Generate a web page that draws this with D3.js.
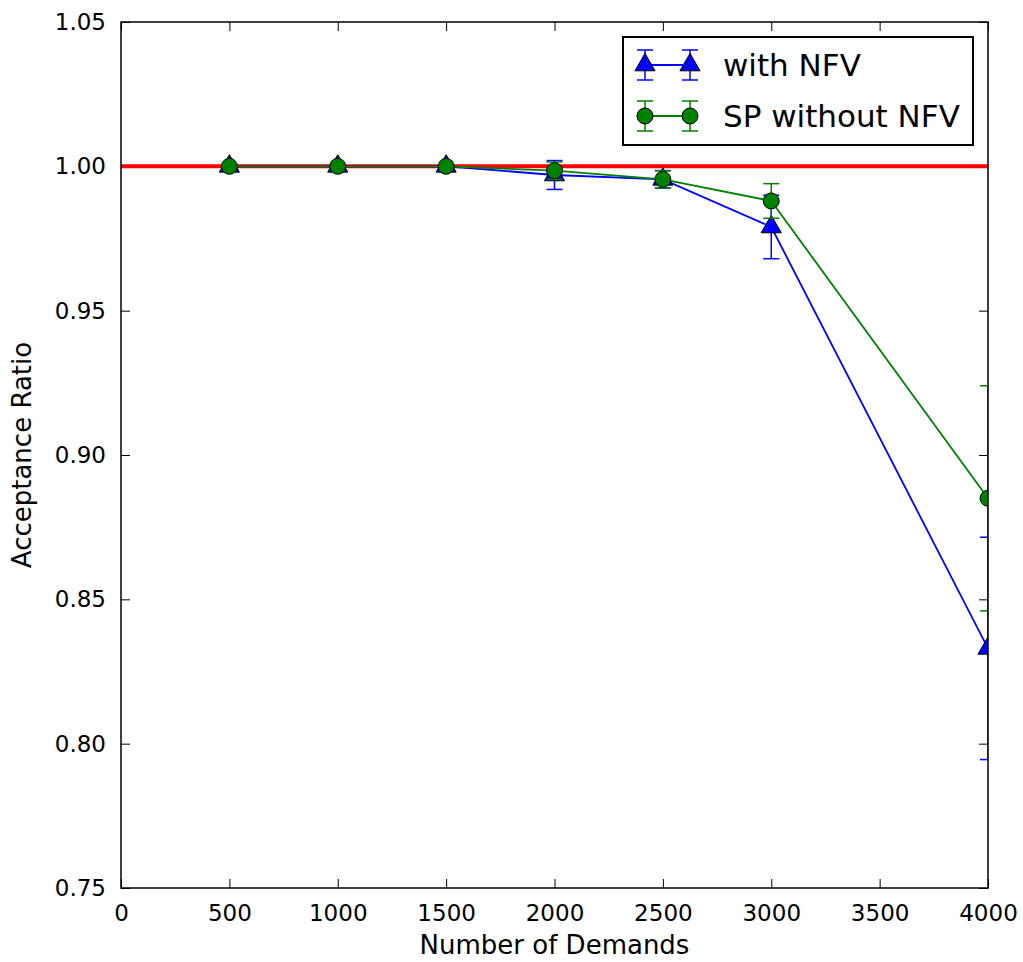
<!DOCTYPE html>
<html>
<head>
<meta charset="utf-8">
<script src="https://cdn.jsdelivr.net/npm/d3@7"></script>
<style>
  body { margin: 0; background: #fff; }
  text { font-family: "DejaVu Sans", sans-serif; fill: #000; }
</style>
</head>
<body>
<div id="chart"></div>
<script>
// demands on x axis
var demands = [500, 1000, 1500, 2000, 2500, 3000, 4000];
// with NFV (blue triangles)
var nfvMean = [1.000, 1.000, 1.000, 0.997, 0.9955, 0.979, 0.833];
var nfvErr  = [0.0002, 0.0002, 0.0002, 0.005, 0.003, 0.011, 0.0385];
// SP without NFV (green circles)
var spMean = [1.000, 1.000, 1.000, 0.9985, 0.9955, 0.988, 0.885];
var spErr  = [0.0005, 0.0005, 0.0005, 0.003, 0.003, 0.006, 0.039];
var xTicks = [0, 500, 1000, 1500, 2000, 2500, 3000, 3500, 4000];
var yTicks = [0.75, 0.80, 0.85, 0.90, 0.95, 1.00, 1.05];
var refLine = 1.0;

function draw()
{
  var W = 1023, H = 962;
  var pL = 121, pR = 988, pT = 22, pB = 888;
  var tickLen = 9;
  var capW = 8;

  var svg = d3.select("#chart").append("svg")
      .attr("width", W).attr("height", H);

  var x = d3.scaleLinear().domain([0, 4000]).range([pL, pR]);
  var y = d3.scaleLinear().domain([0.75, 1.05]).range([pB, pT]);

  svg.append("clipPath").attr("id", "plotClip")
    .append("rect").attr("x", pL).attr("y", pT)
    .attr("width", pR - pL).attr("height", pB - pT);

  // axes, matplotlib classic: ticks pointing inward on all sides
  var gx = svg.append("g").attr("transform", "translate(0," + pB + ")")
    .call(d3.axisBottom(x).tickValues(xTicks).tickSize(-tickLen).tickPadding(tickLen + 8).tickFormat(d3.format("d")));
  var gxTop = svg.append("g").attr("transform", "translate(0," + pT + ")")
    .call(d3.axisTop(x).tickValues(xTicks).tickSize(-tickLen).tickFormat(""));
  var gy = svg.append("g").attr("transform", "translate(" + pL + ",0)")
    .call(d3.axisLeft(y).tickValues(yTicks).tickSize(-tickLen).tickPadding(tickLen + 6).tickFormat(d3.format(".2f")));
  var gyR = svg.append("g").attr("transform", "translate(" + pR + ",0)")
    .call(d3.axisRight(y).tickValues(yTicks).tickSize(-tickLen).tickFormat(""));

  [gx, gxTop, gy, gyR].forEach(function(g) {
    g.select(".domain").remove();
    g.selectAll(".tick line").attr("stroke", "#000").attr("stroke-width", 1);
    g.selectAll("text").attr("font-size", 23).attr("font-family", "DejaVu Sans").attr("fill", "#000");
  });

  var plot = svg.append("g").attr("clip-path", "url(#plotClip)");

  // red reference line at 1.0
  plot.append("line")
    .attr("x1", pL).attr("x2", pR)
    .attr("y1", y(refLine)).attr("y2", y(refLine))
    .attr("stroke", "#ff0000").attr("stroke-width", 4);

  function series(mean, err, color, marker) {
    var pts = demands.map(function(d, i) { return {x: d, y: mean[i], e: err[i]}; });
    var g = plot.append("g");
    // error bars
    var eb = g.selectAll(".eb").data(pts).enter().append("g").attr("stroke", color).attr("stroke-width", 1.5);
    eb.append("line")
      .attr("x1", function(d) { return x(d.x); }).attr("x2", function(d) { return x(d.x); })
      .attr("y1", function(d) { return y(d.y - d.e); }).attr("y2", function(d) { return y(d.y + d.e); });
    eb.append("line")
      .attr("x1", function(d) { return x(d.x) - capW; }).attr("x2", function(d) { return x(d.x) + capW; })
      .attr("y1", function(d) { return y(d.y - d.e); }).attr("y2", function(d) { return y(d.y - d.e); });
    eb.append("line")
      .attr("x1", function(d) { return x(d.x) - capW; }).attr("x2", function(d) { return x(d.x) + capW; })
      .attr("y1", function(d) { return y(d.y + d.e); }).attr("y2", function(d) { return y(d.y + d.e); });
    // line
    g.append("path").datum(pts)
      .attr("fill", "none").attr("stroke", color).attr("stroke-width", 1.8)
      .attr("d", d3.line().x(function(d) { return x(d.x); }).y(function(d) { return y(d.y); }));
    // markers
    g.selectAll(".mk").data(pts).enter().append("path")
      .attr("transform", function(d) { return "translate(" + x(d.x) + "," + y(d.y) + ")"; })
      .attr("d", marker)
      .attr("fill", color).attr("stroke", "#000").attr("stroke-width", 1);
  }

  var triangle = d3.symbol().type(d3.symbolTriangle).size(175)();
  var circle = d3.symbol().type(d3.symbolCircle).size(200)();

  series(nfvMean, nfvErr, "#0000ff", triangle);
  series(spMean, spErr, "#008000", circle);

  // frame
  svg.append("rect")
    .attr("x", pL).attr("y", pT).attr("width", pR - pL).attr("height", pB - pT)
    .attr("fill", "none").attr("stroke", "#000").attr("stroke-width", 1.5);

  // axis labels
  svg.append("text")
    .attr("x", (pL + pR) / 2).attr("y", 954)
    .attr("text-anchor", "middle").attr("font-size", 26)
    .text("Number of Demands");
  svg.append("text")
    .attr("transform", "translate(31," + ((pT + pB) / 2) + ") rotate(-90)")
    .attr("text-anchor", "middle").attr("font-size", 26)
    .text("Acceptance Ratio");

  // legend
  var legend = svg.append("g");
  legend.append("rect")
    .attr("x", 623).attr("y", 37).attr("width", 350).attr("height", 108)
    .attr("fill", "#fff").attr("stroke", "#000").attr("stroke-width", 2);
  var legendItems = [
    {label: "with NFV", color: "#0000ff", marker: triangle},
    {label: "SP without NFV", color: "#008000", marker: circle}
  ];
  legendItems.forEach(function(it, i) {
    var cy = 65 + i * 51;
    var lg = legend.append("g").attr("stroke", it.color).attr("stroke-width", 1.5);
    [645, 690].forEach(function(cx) {
      lg.append("line").attr("x1", cx).attr("x2", cx).attr("y1", cy - 15).attr("y2", cy + 15);
      lg.append("line").attr("x1", cx - capW).attr("x2", cx + capW).attr("y1", cy - 15).attr("y2", cy - 15);
      lg.append("line").attr("x1", cx - capW).attr("x2", cx + capW).attr("y1", cy + 15).attr("y2", cy + 15);
    });
    lg.append("line").attr("x1", 645).attr("x2", 690).attr("y1", cy).attr("y2", cy).attr("stroke-width", 2);
    [645, 690].forEach(function(cx) {
      legend.append("path").attr("transform", "translate(" + cx + "," + cy + ")")
        .attr("d", it.marker).attr("fill", it.color).attr("stroke", "#000").attr("stroke-width", 1);
    });
    legend.append("text").attr("x", 723).attr("y", cy).attr("dy", "0.36em")
      .attr("font-size", 31).text(it.label);
  });
}

draw();
</script>
</body>
</html>
